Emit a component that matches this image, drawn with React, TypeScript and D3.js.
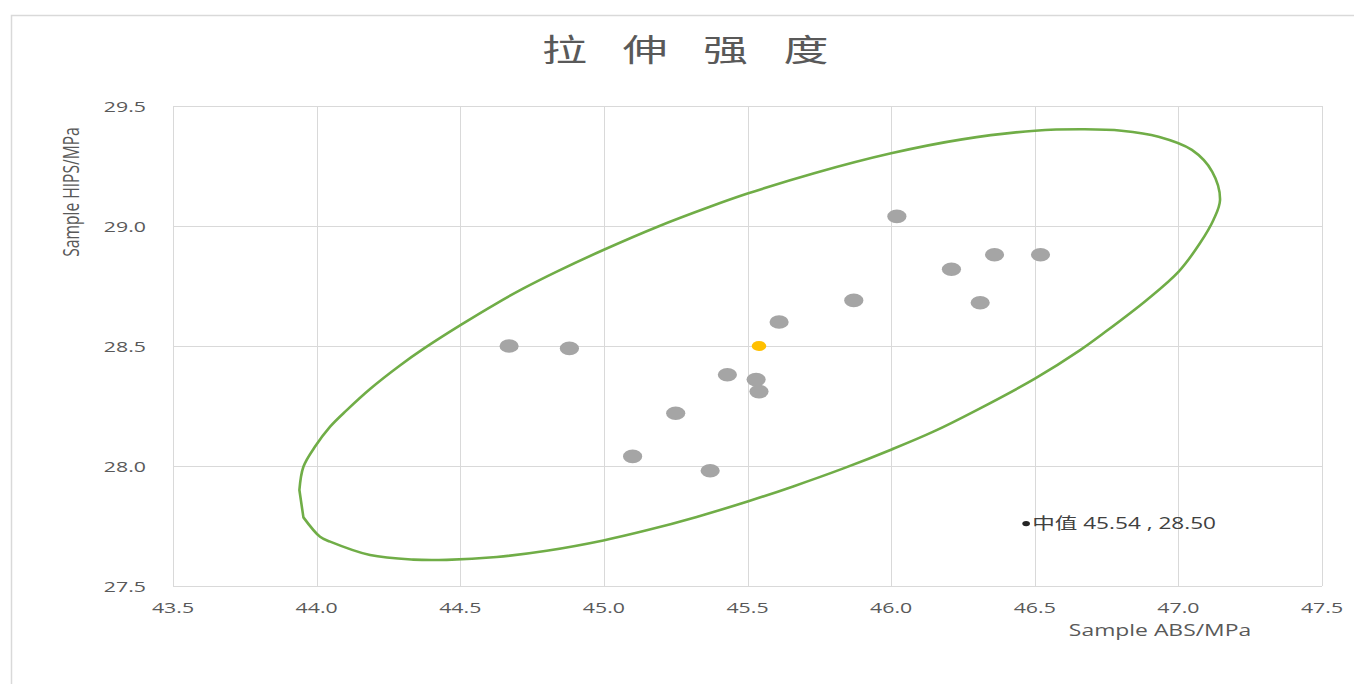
import React from "react";
import * as d3 from "d3";

// ---- data ----
const absValues = [44.67, 44.88, 45.10, 45.25, 45.37, 45.43, 45.53, 45.54, 45.61, 45.87, 46.02, 46.21, 46.31, 46.36, 46.52];
const hipsValues = [28.50, 28.49, 28.04, 28.22, 27.98, 28.38, 28.36, 28.31, 28.60, 28.69, 29.04, 28.82, 28.68, 28.88, 28.88];
const medianABS = 45.54;
const medianHIPS = 28.50;

// confidence ellipse outline
const ellipseABS = [
  43.940, 43.954, 43.994, 44.047, 44.105, 44.186, 44.290, 44.374, 44.502, 44.627, 44.720, 44.836, 44.998, 45.187, 45.369,
  45.500, 45.732, 46.000, 46.247, 46.501, 46.674, 46.802, 46.931, 47.047, 47.118, 47.145, 47.122, 47.075, 47.001, 46.890,
  46.739, 46.658, 46.502, 46.298, 46.147, 46.004, 45.834, 45.659, 45.503, 45.323, 45.149, 44.998, 44.801, 44.627, 44.453,
  44.337, 44.186, 44.047, 44.012, 43.954,
];
const ellipseHIPS = [
  27.900, 27.997, 28.080, 28.164, 28.233, 28.321, 28.419, 28.490, 28.588, 28.678, 28.740, 28.810, 28.900, 28.997, 29.080,
  29.135, 29.220, 29.303, 29.361, 29.397, 29.403, 29.397, 29.372, 29.317, 29.226, 29.108, 29.025, 28.928, 28.810, 28.692,
  28.553, 28.483, 28.365, 28.233, 28.143, 28.070, 27.990, 27.915, 27.853, 27.788, 27.732, 27.690, 27.647, 27.621, 27.609,
  27.610, 27.629, 27.685, 27.705, 27.786,
];

const xTicks = [43.5, 44.0, 44.5, 45.0, 45.5, 46.0, 46.5, 47.0, 47.5];
const yTicks = [27.5, 28.0, 28.5, 29.0, 29.5];
const titleText = "拉伸强度";
const xTitle = "Sample ABS/MPa";
const yTitle = "Sample HIPS/MPa";
const annotationPos = [46.47, 27.76];
const annotationText = `中值 ${medianABS.toFixed(2)} , ${medianHIPS.toFixed(2)}`;

const W = 1354;
const H = 684;
const SX = 1.45; // horizontal stretch of the reference picture
const FONT = "'Open Sans', 'Noto Sans CJK SC', sans-serif";
const GRID = "#D9D9D9";
const TXT = "#595959";

export default function App() {
  const x = d3.scaleLinear().domain([43.5, 47.5]).range([173, 1322]);
  const y = d3.scaleLinear().domain([27.5, 29.5]).range([586, 106]);

  const ellipsePts: [number, number][] = ellipseABS.map((v, i) => [x(v), y(ellipseHIPS[i])]);
  const line = d3.line().curve(d3.curveCatmullRom.alpha(0.5));
  const ellipsePath = (line(ellipsePts) || "") + "Z";

  return (
    <svg width={W} height={H} style={{ position: "absolute", left: 0, top: 0, background: "#fff" }}>
      <rect x={0} y={0} width={W} height={H} fill="#fff" />
      {/* outer frame */}
      <rect x={11.5} y={15.5} width={1500} height={900} fill="none" stroke={GRID} strokeWidth={1.5} />

      {/* title */}
      <g transform={`translate(542,61) scale(${SX},1)`}>
        <text x={0} y={0} fontFamily="'Noto Sans CJK SC', sans-serif" fontSize={31} fill={TXT} letterSpacing={24.5}>
          {titleText}
        </text>
      </g>

      {/* grid */}
      {xTicks.map((t) => (
        <line key={"gx" + t} x1={Math.round(x(t)) + 0.5} x2={Math.round(x(t)) + 0.5} y1={y(29.5)} y2={y(27.5)} stroke={GRID} strokeWidth={1} />
      ))}
      {yTicks.map((t) => (
        <line key={"gy" + t} x1={x(43.5)} x2={x(47.5)} y1={Math.round(y(t)) + 0.5} y2={Math.round(y(t)) + 0.5} stroke={GRID} strokeWidth={1} />
      ))}

      {/* tick labels */}
      {yTicks.map((t) => (
        <g key={"ly" + t} transform={`translate(146,${y(t) + 5.5}) scale(${SX},1)`}>
          <text textAnchor="end" fontFamily={FONT} fontSize={14.7} fill={TXT}>{t.toFixed(1)}</text>
        </g>
      ))}
      {xTicks.map((t) => (
        <g key={"lx" + t} transform={`translate(${x(t)},613) scale(${SX},1)`}>
          <text textAnchor="middle" fontFamily={FONT} fontSize={14.7} fill={TXT}>{t.toFixed(1)}</text>
        </g>
      ))}

      {/* axis titles */}
      <g transform={`translate(1160,636) scale(${SX},1)`}>
        <text textAnchor="middle" fontFamily={FONT} fontSize={15.8} fill={TXT}>{xTitle}</text>
      </g>
      <g transform={`translate(78.5,192) scale(${SX},1) rotate(-90)`}>
        <text textAnchor="middle" fontFamily={FONT} fontSize={15.6} fill={TXT}>{yTitle}</text>
      </g>

      {/* ellipse */}
      <path d={ellipsePath} fill="none" stroke="#70AD47" strokeWidth={2.6} strokeLinejoin="round" />

      {/* samples */}
      {absValues.map((v, i) => (
        <ellipse key={"p" + i} cx={x(v)} cy={y(hipsValues[i])} rx={9.6} ry={6.8} fill="#A5A5A5" />
      ))}
      {/* median */}
      <ellipse cx={x(medianABS)} cy={y(medianHIPS)} rx={7.3} ry={5.1} fill="#FFC000" />

      {/* annotation */}
      <ellipse cx={x(annotationPos[0])} cy={y(annotationPos[1])} rx={3.8} ry={2.7} fill="#262626" />
      <g transform={`translate(${x(annotationPos[0]) + 6},529) scale(${SX},1)`}>
        <text fontFamily={FONT} fontSize={15.6} fill="#404040">{annotationText}</text>
      </g>
    </svg>
  );
}
